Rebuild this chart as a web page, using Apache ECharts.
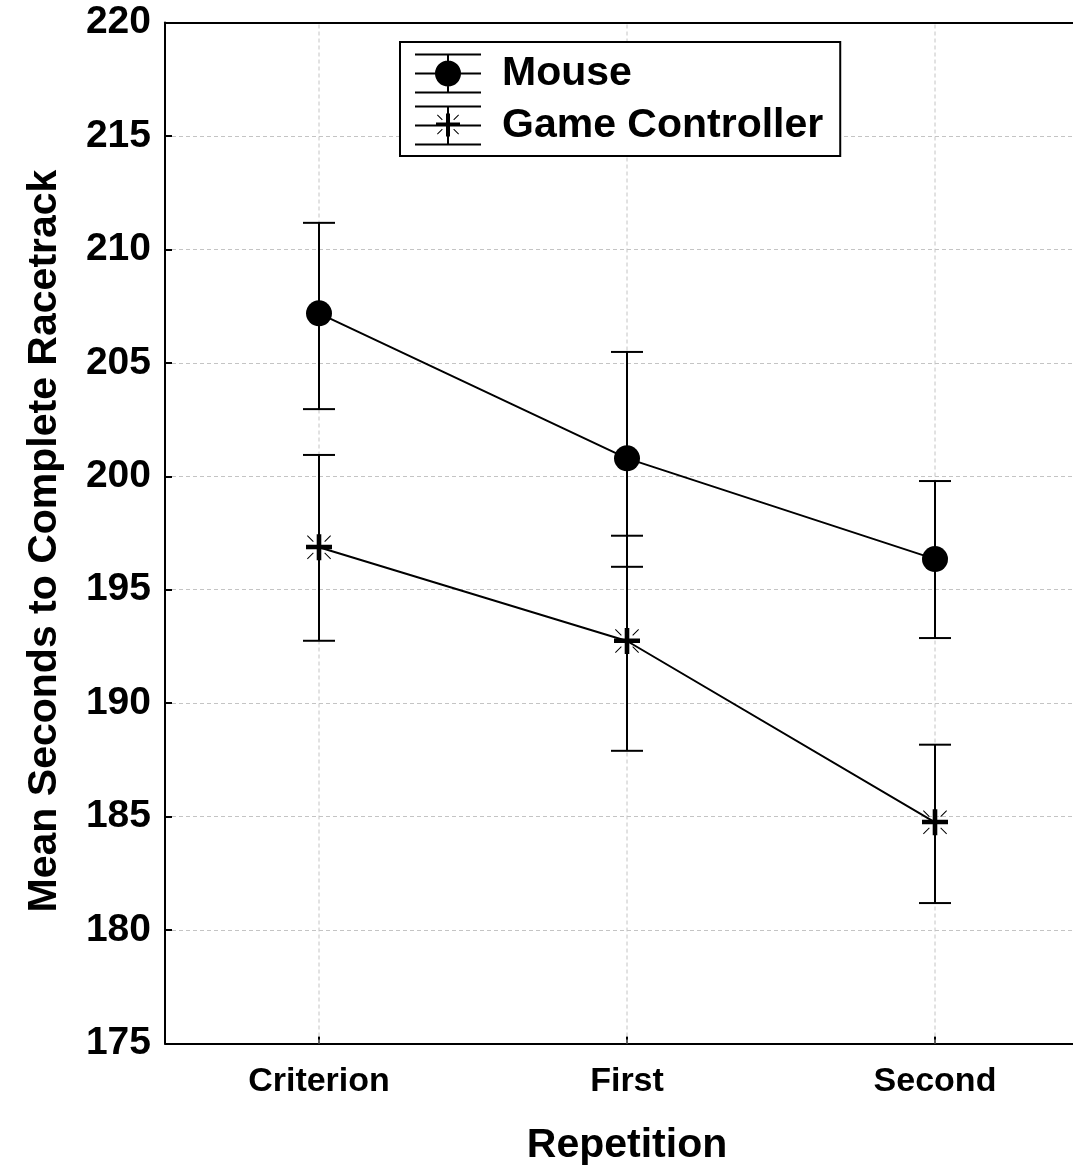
<!DOCTYPE html>
<html>
<head>
<meta charset="utf-8">
<script src="https://cdn.jsdelivr.net/npm/echarts@6/dist/echarts.min.js"></script>
<style>
html,body{margin:0;padding:0;background:#fff;}
#chart{width:1073px;height:1169px;}
</style>
</head>
<body>
<div id="chart"></div>
<script>
const categories = ['Criterion', 'First', 'Second'];
const seriesNames = ['Mouse', 'Game Controller'];
const mouseMean = [207.18, 200.79, 196.35];
const mouseHigh = [211.17, 205.48, 199.79];
const mouseLow = [202.96, 196.01, 192.87];
const ctrlMean = [196.87, 192.74, 184.75];
const ctrlHigh = [200.94, 197.38, 188.17];
const ctrlLow = [192.75, 187.90, 181.19];
const yTicks = {min: 175, max: 220, interval: 5};

const FONT = '"Liberation Sans", Arial, sans-serif';

const circleIcon = 'path://M0 0H66V2H0Z M0 19H66V21H0Z M0 38H66V40H0Z M32 0H34V40H32Z M20 20A13 13 0 1 1 46 20A13 13 0 1 1 20 20Z';
const starIcon = 'path://M0 0H66V2H0Z M0 19H66V21H0Z M0 38H66V40H0Z M32 0H34V40H32Z M21 17H45V21H21Z M31 8H35V31H31Z M22 9.7L22.7 9L27.7 14L27 14.7Z M44 9.7L43.3 9L38.3 14L39 14.7Z M22 28.3L22.7 29L27.7 24L27 23.3Z M44 28.3L43.3 29L38.3 24L39 23.3Z';
const starSymbol = 'path://M4 14.5H30V19H4Z M14.7 4H19.3V30H14.7Z M5 5.7L5.7 5L11.7 11L11 11.7Z M29 5.7L28.3 5L22.3 11L23 11.7Z M5 28.3L5.7 29L11.7 23L11 22.3Z M29 28.3L28.3 29L22.3 23L23 22.3Z';

function errData(lo, hi) {
  return categories.map((c, i) => [i, lo[i], hi[i]]);
}
function errRender(params, api) {
  const x = api.value(0);
  const lo = api.coord([x, api.value(1)]);
  const hi = api.coord([x, api.value(2)]);
  const hw = 16;
  const st = {stroke: '#000', lineWidth: 2, fill: null};
  return {
    type: 'group',
    children: [
      {type: 'line', shape: {x1: hi[0], y1: hi[1], x2: lo[0], y2: lo[1]}, style: st},
      {type: 'line', shape: {x1: hi[0] - hw, y1: hi[1], x2: hi[0] + hw, y2: hi[1]}, style: st},
      {type: 'line', shape: {x1: lo[0] - hw, y1: lo[1], x2: lo[0] + hw, y2: lo[1]}, style: st}
    ]
  };
}
function vgridRender(params, api) {
  const x = api.value(0);
  const a = api.coord([x, yTicks.min]);
  const b = api.coord([x, yTicks.max]);
  return {
    type: 'line',
    shape: {x1: a[0], y1: a[1], x2: b[0], y2: b[1]},
    style: {stroke: '#c4c4c4', lineWidth: 1, lineDash: [4, 3], fill: null}
  };
}

const chart = echarts.init(document.getElementById('chart'), null, {renderer: 'canvas'});
chart.setOption({
  animation: false,
  backgroundColor: '#fff',
  grid: {left: 165, top: 22.5, width: 924, height: 1021, outerBoundsMode: 'none', containLabel: false},
  legend: {
    orient: 'vertical',
    left: 400, top: 42,
    padding: [11, 17, 10, 15],
    itemGap: 11,
    itemWidth: 66, itemHeight: 40,
    borderColor: '#000', borderWidth: 2,
    backgroundColor: '#fff',
    textStyle: {fontFamily: FONT, fontWeight: 'bold', fontSize: 41, color: '#000', padding: [0, 0, 0, 16]},
    data: [
      {name: seriesNames[0], icon: circleIcon, itemStyle: {color: '#000'}},
      {name: seriesNames[1], icon: starIcon, itemStyle: {color: '#000'}}
    ]
  },
  xAxis: [{
    type: 'category',
    data: categories,
    boundaryGap: true,
    name: 'Repetition',
    nameLocation: 'middle',
    nameGap: 82,
    nameTextStyle: {fontFamily: FONT, fontWeight: 'bold', fontSize: 41, color: '#000'},
    axisLine: {lineStyle: {color: '#000', width: 2}},
    axisTick: {show: true, inside: true, alignWithLabel: true, length: 7, lineStyle: {color: '#000', width: 2}},
    axisLabel: {fontFamily: FONT, fontWeight: 'bold', fontSize: 34, color: '#000', margin: 21},
    splitLine: {show: false}
  }, {
    type: 'category',
    data: categories,
    position: 'top',
    axisLine: {show: true, lineStyle: {color: '#000', width: 2}},
    axisTick: {show: false},
    axisLabel: {show: false},
    splitLine: {show: false}
  }],
  yAxis: {
    type: 'value',
    min: yTicks.min, max: yTicks.max, interval: yTicks.interval,
    name: 'Mean Seconds to Complete Racetrack',
    nameLocation: 'middle',
    nameGap: 100,
    nameRotate: 90,
    nameTextStyle: {fontFamily: FONT, fontWeight: 'bold', fontSize: 41, color: '#000', padding: [0, 16, 0, 0]},
    axisLine: {show: true, lineStyle: {color: '#000', width: 2}},
    axisTick: {show: true, inside: true, length: 7, lineStyle: {color: '#000', width: 2}},
    axisLabel: {fontFamily: FONT, fontWeight: 'bold', fontSize: 39, color: '#000', margin: 14},
    splitLine: {show: true, lineStyle: {color: '#c4c4c4', width: 1, type: [4, 3]}}
  },
  series: [
    {type: 'custom', name: 'vgrid', renderItem: vgridRender, data: categories.map((c, i) => [i]), z: 1, silent: true},
    {type: 'custom', name: 'mouseErr', renderItem: errRender, data: errData(mouseLow, mouseHigh), z: 3, silent: true},
    {type: 'custom', name: 'ctrlErr', renderItem: errRender, data: errData(ctrlLow, ctrlHigh), z: 3, silent: true},
    {
      name: seriesNames[0], type: 'line', data: mouseMean, z: 5,
      symbol: 'circle', symbolSize: 26, showAllSymbol: true,
      itemStyle: {color: '#000', borderWidth: 0},
      lineStyle: {color: '#000', width: 2}
    },
    {
      name: seriesNames[1], type: 'line', data: ctrlMean, z: 5,
      symbol: starSymbol, symbolSize: [26, 26], showAllSymbol: true,
      itemStyle: {color: '#000', borderWidth: 0},
      lineStyle: {color: '#000', width: 2}
    }
  ]
});
</script>
</body>
</html>
